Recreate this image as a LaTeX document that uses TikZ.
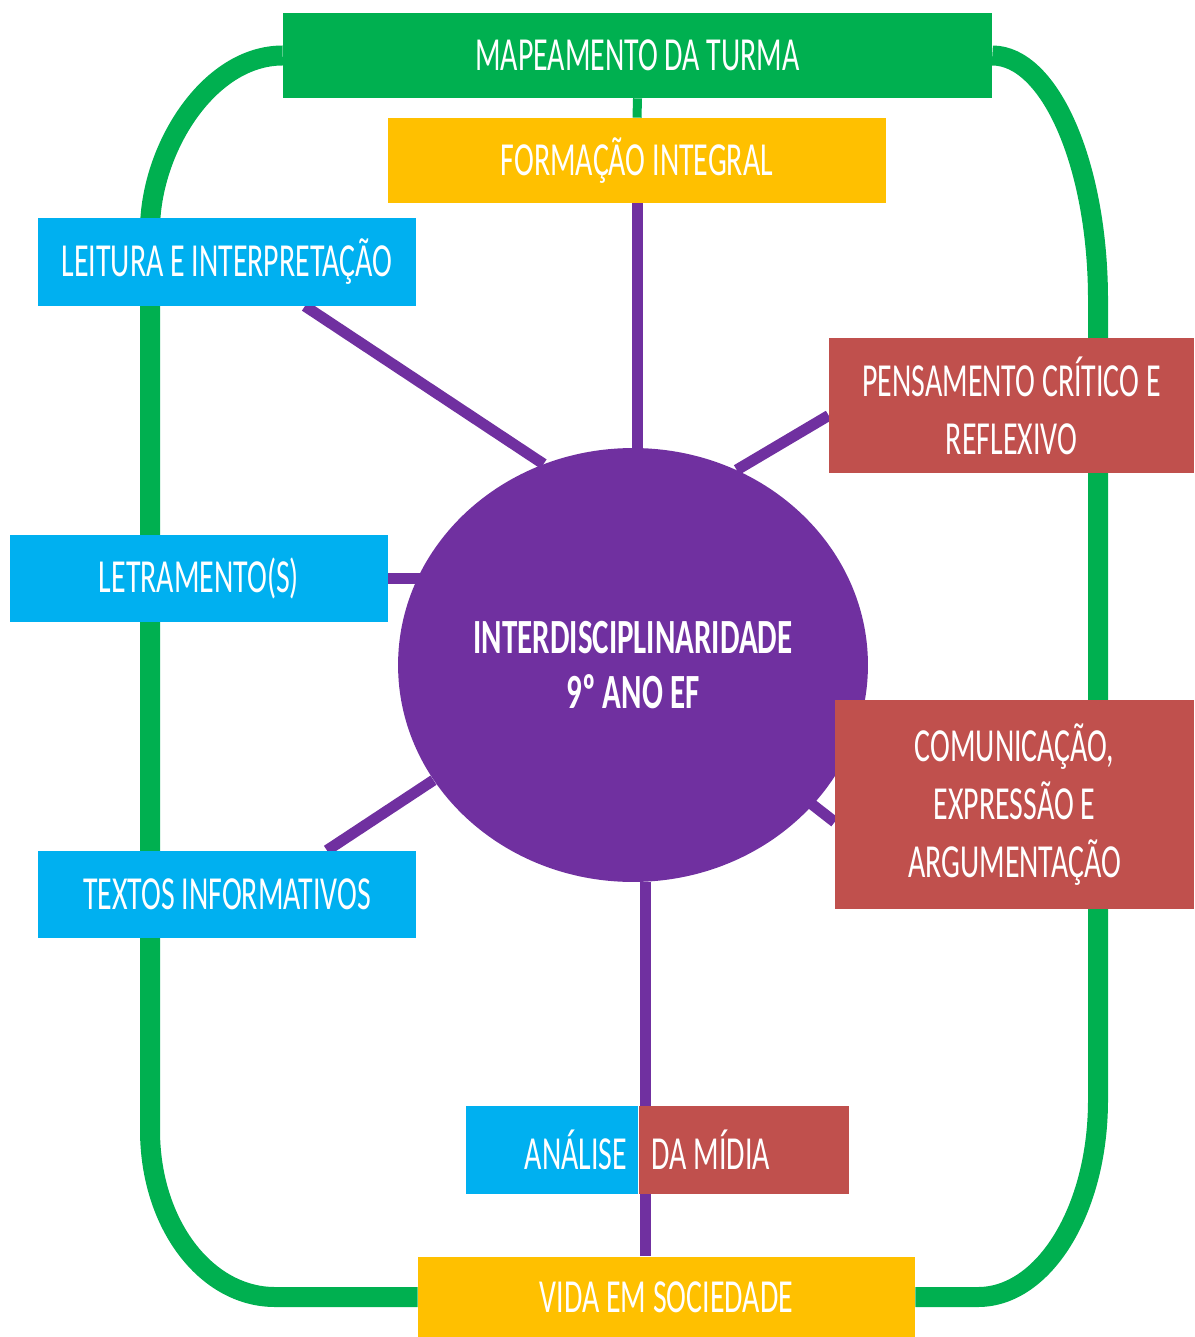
\documentclass[tikz,border=0pt]{standalone}
\usepackage{fontspec}
\setmainfont{Carlito}[FakeStretch=0.63]
\usepackage{tikz}
\usetikzlibrary{shapes.geometric, positioning, backgrounds}

\definecolor{mapgreen}{HTML}{00B050}
\definecolor{topicyellow}{HTML}{FFC000}
\definecolor{topicblue}{HTML}{00B0F0}
\definecolor{topicred}{HTML}{C0504D}
\definecolor{hubpurple}{HTML}{7030A0}

\begin{document}
\begin{tikzpicture}[
    x=0.02cm, y=-0.02cm,
    box/.style={rectangle, text=white, inner sep=0pt, align=center, font=\fontsize{27}{33}\selectfont},
    greenbox/.style={box, fill=mapgreen},
    yellowbox/.style={box, fill=topicyellow},
    bluebox/.style={box, fill=topicblue, minimum width=7.56cm, minimum height=1.75cm},
    redbox/.style={box, fill=topicred},
    hubnode/.style={ellipse, fill=hubpurple, text=white, inner sep=0pt, minimum width=9.4cm, minimum height=8.68cm, align=center, font=\fontsize{28}{31}\selectfont\bfseries},
    spoke/.style={line width=0.22cm, color=hubpurple},
    loopline/.style={line width=0.4cm, color=mapgreen}
]
\useasboundingbox (0,0) rectangle (1194,1337);

% Top boxes
\node[greenbox, minimum width=14.18cm, minimum height=1.7cm] (map) at (637.5,55.5) {MAPEAMENTO DA TURMA};
\node[yellowbox, minimum width=9.96cm, minimum height=1.7cm] (formacao) at (637,160.5) {FORMAÇÃO INTEGRAL};

% Centre
\node[hubnode] (hub) at (633,665) {INTERDISCIPLINARIDADE\\9º ANO EF};

% Left side
\node[bluebox] (leitura) at (227,262) {LEITURA E INTERPRETAÇÃO};
\node[bluebox] (letramento) at (199,578.5) {LETRAMENTO(S)};
\node[bluebox] (textos) at (227,894.5) {TEXTOS INFORMATIVOS};

% Right side
\node[redbox, minimum width=7.3cm, minimum height=2.7cm] (pensamento) at (1011.5,405.5) {PENSAMENTO CRÍTICO E\\REFLEXIVO};
\node[redbox, minimum width=7.18cm, minimum height=4.18cm] (comunicacao) at (1014.5,804.5) {COMUNICAÇÃO,\\EXPRESSÃO E\\ARGUMENTAÇÃO};

% Bottom
\node[bluebox, minimum width=3.44cm, minimum height=1.76cm] (analise) at (552,1150) {\makebox[3.0cm][r]{ANÁLISE}};
\node[redbox, right=0pt of analise, minimum width=4.2cm, minimum height=1.76cm] (midia) {\makebox[3.68cm][l]{DA MÍDIA}};
\node[yellowbox, minimum width=9.94cm, minimum height=1.62cm] (vida) at (666.5,1297) {VIDA EM SOCIEDADE};

% Connectors
\begin{scope}[on background layer]
\draw[loopline] (map.west) .. controls (208,55.5) and (150,150) .. (150,230) -- (150,1130)
    .. controls (150,1224) and (206,1297) .. (275,1297) -- (vida.west);
\draw[loopline] (map.east) .. controls (1050,55.5) and (1098,165) .. (1098,300) -- (1098,1100)
    .. controls (1098,1210) and (1044,1297) .. (978,1297) -- (vida.east);
\draw[line width=0.18cm, mapgreen] (map.south) -- (formacao.north);
\draw[spoke] (formacao.south) -- (formacao.south |- hub.center);
\draw[spoke] ([xshift=1.56cm]leitura.south) -- (hub.114);
\draw[spoke] ([yshift=-0.2cm]pensamento.west) -- (hub.62);
\draw[spoke] (letramento.east) -- (hub.center |- letramento.east);
\draw[spoke] ([xshift=2.0cm]textos.north) -- (hub.210);
\draw[spoke] ([yshift=-0.35cm]comunicacao.west) -- (hub.center);
\draw[spoke] ([xshift=0.24cm]hub.south) -- ([xshift=0.24cm]hub.south |- vida.north);
\end{scope}

\end{tikzpicture}
\end{document}
